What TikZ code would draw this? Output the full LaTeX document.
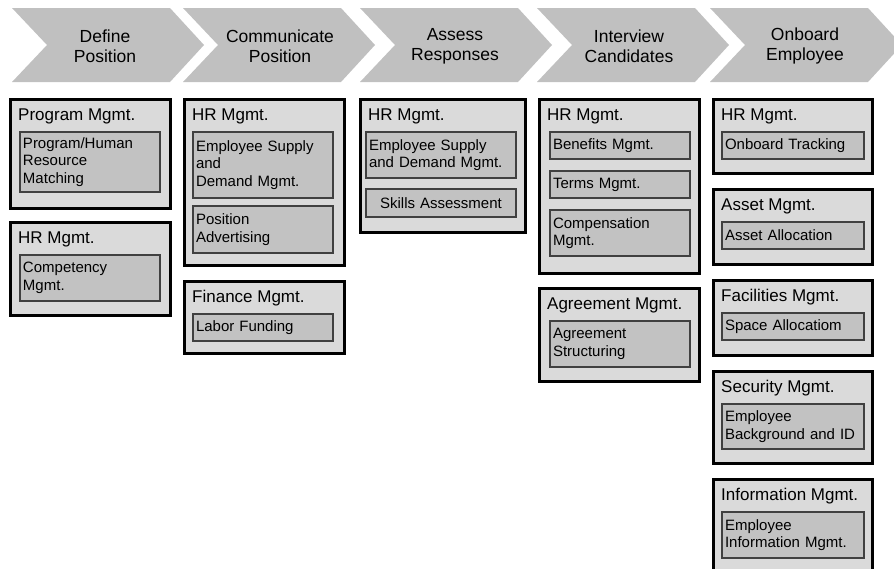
\documentclass[tikz,border=0pt]{standalone}
\usepackage{fontspec}
\setmainfont{Liberation Sans}
\usetikzlibrary{positioning}
\definecolor{chevgray}{RGB}{192,192,192}
\definecolor{grpfill}{RGB}{218,218,218}
\definecolor{itmfill}{RGB}{194,194,194}
\definecolor{itmline}{RGB}{64,64,64}

\begin{document}
\begin{tikzpicture}[x=1pt,y=-1pt,
  chev/.style={fill=chevgray},
  head/.style={align=center,font=\fontsize{17.5}{20}\selectfont},
  grp/.style={draw=black,line width=3pt,fill=grpfill,anchor=north west,inner sep=0pt,outer sep=0pt,minimum width=160pt},
  ttl/.style={inner sep=0pt,text height=12pt,font=\fontsize{17}{20}\selectfont},
  itm/.style={draw=itmline,line width=1.2pt,fill=itmfill,align=left,inner xsep=3pt,inner ysep=0pt,outer sep=0pt,
    text width=134pt,font=\fontsize{15}{17.5}\selectfont}]

  \useasboundingbox (0,0) rectangle (894,568);

  % process steps
  \foreach \l in {12,183,360,537,710}
    \fill[chev] (\l,8) -- (\l+158,8) -- (\l+192,45) -- (\l+158,82) -- (\l,82) -- (\l+35,45) -- cycle;
  \node[head] (define) at (105,46) {Define\\Position};
  \node[head] (communicate) at (280,46) {Communicate\\Position};
  \node[head] (assess) at (455,46) {Assess\\Responses};
  \node[head] (interview) at (629,46) {Interview\\Candidates};
  \node[head] (onboard) at (805,46) {Onboard\\Employee};

  % define position
  \node[grp,minimum height=109pt] (prog) at (10,99) {};
  \node[ttl,below right=9pt and 8pt of prog.north west] (progT) {Program Mgmt.};
  \node[itm,minimum height=60pt,below right=33pt and 10pt of prog.north west] (progA) {Program/Human\\Resource\\Matching};
  \node[grp,minimum height=93pt,below=14pt of prog] (hrA) {};
  \node[ttl,below right=9pt and 8pt of hrA.north west] (hrAT) {HR Mgmt.};
  \node[itm,minimum height=46pt,below right=33pt and 10pt of hrA.north west] (hrAa) {Competency\\Mgmt.};

  % communicate position
  \node[grp,minimum height=166pt] (hrB) at (184,99) {};
  \node[ttl,below right=9pt and 8pt of hrB.north west] (hrBT) {HR Mgmt.};
  \node[itm,minimum height=66pt,below right=33pt and 9pt of hrB.north west] (hrBa) {Employee Supply\\and\\Demand Mgmt.};
  \node[itm,minimum height=47pt,below=8pt of hrBa] (hrBb) {Position\\Advertising};
  \node[grp,minimum height=72pt,below=16pt of hrB] (fin) {};
  \node[ttl,below right=9pt and 8pt of fin.north west] (finT) {Finance Mgmt.};
  \node[itm,minimum height=27pt,below right=33pt and 9pt of fin.north west] (finA) {Labor Funding};

  % assess responses
  \node[grp,minimum width=165pt,minimum height=133pt] (hrC) at (360,99) {};
  \node[ttl,below right=9pt and 8pt of hrC.north west] (hrCT) {HR Mgmt.};
  \node[itm,text width=144pt,minimum height=46pt,below right=33pt and 6pt of hrC.north west] (hrCa) {Employee Supply\\and Demand Mgmt.};
  \node[itm,text width=144pt,align=center,minimum height=28pt,below=11pt of hrCa] (hrCb) {Skills Assessment};

  % interview candidates
  \node[grp,minimum height=174pt] (hrD) at (539,99) {};
  \node[ttl,below right=9pt and 8pt of hrD.north west] (hrDT) {HR Mgmt.};
  \node[itm,minimum height=27pt,below right=33pt and 11pt of hrD.north west] (hrDa) {Benefits Mgmt.};
  \node[itm,minimum height=27pt,below=12pt of hrDa] (hrDb) {Terms Mgmt.};
  \node[itm,minimum height=46pt,below=12pt of hrDb] (hrDc) {Compensation\\Mgmt.};
  \node[grp,minimum height=93pt,below=15pt of hrD] (agr) {};
  \node[ttl,below right=9pt and 8pt of agr.north west] (agrT) {Agreement Mgmt.};
  \node[itm,minimum height=46pt,below right=33pt and 11pt of agr.north west] (agrA) {Agreement\\Structuring};

  % onboard employee
  \node[grp,minimum width=159pt,minimum height=74pt] (hrE) at (713,99) {};
  \node[ttl,below right=9pt and 8pt of hrE.north west] (hrET) {HR Mgmt.};
  \node[itm,text width=136pt,minimum height=27pt,below right=33pt and 9pt of hrE.north west] (hrEa) {Onboard Tracking};
  \node[grp,minimum width=159pt,minimum height=75pt,below=16pt of hrE] (asset) {};
  \node[ttl,below right=9pt and 8pt of asset.north west] (assetT) {Asset Mgmt.};
  \node[itm,text width=136pt,minimum height=27pt,below right=33pt and 9pt of asset.north west] (assetA) {Asset Allocation};
  \node[grp,minimum width=159pt,minimum height=75pt,below=16pt of asset] (fac) {};
  \node[ttl,below right=9pt and 8pt of fac.north west] (facT) {Facilities Mgmt.};
  \node[itm,text width=136pt,minimum height=27pt,below right=33pt and 9pt of fac.north west] (facA) {Space Allocatiom};
  \node[grp,minimum width=159pt,minimum height=92pt,below=16pt of fac] (sec) {};
  \node[ttl,below right=9pt and 8pt of sec.north west] (secT) {Security Mgmt.};
  \node[itm,text width=136pt,minimum height=45pt,below right=33pt and 9pt of sec.north west] (secA) {Employee\\Background and ID};
  \node[grp,minimum width=159pt,minimum height=100pt,below=16pt of sec] (info) {};
  \node[ttl,below right=9pt and 8pt of info.north west] (infoT) {Information Mgmt.};
  \node[itm,text width=136pt,minimum height=46pt,below right=33pt and 9pt of info.north west] (infoA) {Employee\\Information Mgmt.};
\end{tikzpicture}
\end{document}
